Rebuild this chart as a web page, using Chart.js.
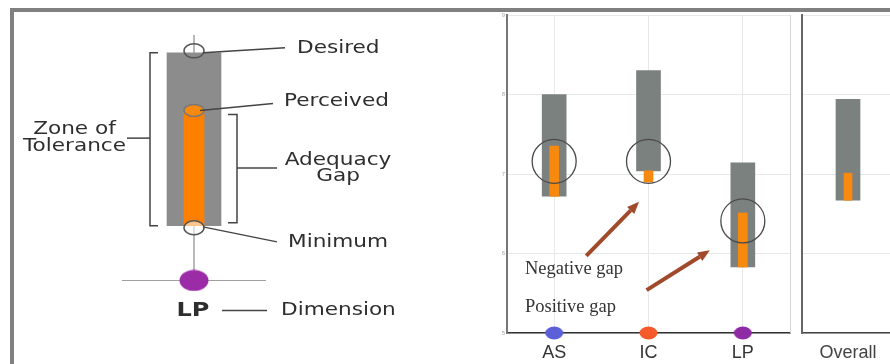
<!DOCTYPE html>
<html>
<head>
<meta charset="utf-8">
<script src="https://cdn.jsdelivr.net/npm/chart.js@4.4.1/dist/chart.umd.min.js"></script>
<style>
  html, body { margin: 0; padding: 0; background: #fff; }
  #wrap { position: relative; width: 890px; height: 364px; overflow: hidden; background: #fff; }
  #frame { position: absolute; left: 10px; top: 8px; width: 900px; height: 352px;
           border-top: 4px solid #808080; border-left: 4px solid #808080; border-bottom: 2px solid #808080; }
  .box { position: absolute; top: 0; height: 364px; }
</style>
</head>
<body>
<div id="wrap">
  <div id="frame"></div>
  <div class="box" style="left:0;width:490px"><canvas id="diag"></canvas></div>
  <div class="box" style="left:470px;width:330px"><canvas id="p1"></canvas></div>
  <div class="box" style="left:790px;width:110px"><canvas id="p2"></canvas></div>
</div>
<script>
// ---------- data: explanatory diagram ----------
const diagLabels = ['LP'];
const diagDesired = [8];
const diagPerceived = [7];
const diagMinimum = [5];
const diagMarker = [4.05];

// ---------- data: dimensions ----------
const categories = ['AS', 'IC', 'LP'];
const desired = [8.00, 8.30, 7.14];
const minimum = [6.72, 7.04, 5.83];
const perceived = [7.35, 6.90, 6.51];
const circleY = [7.16, 7.16, 6.41];
const baseY = [5, 5, 5];
const dotColors = ['#5b5fd8', '#f45a2a', '#8e2aa3'];

// ---------- data: overall ----------
const overallLabels = ['Overall'];
const overallDesired = [7.94];
const overallMinimum = [6.67];
const overallPerceived = [7.01];

const yTicks = [5, 6, 7, 8, 9];

const GREY = '#7b817e';
const ORANGE = '#f7890f';

function ellipseCanvas(w, h, color) {
  const c = document.createElement('canvas');
  c.width = w; c.height = h;
  const g = c.getContext('2d');
  g.fillStyle = color;
  g.beginPath();
  g.ellipse(w / 2, h / 2, w / 2 - 0.5, h / 2 - 0.5, 0, 0, Math.PI * 2);
  g.fill();
  return c;
}

function stretchText(ctx, text, x, y, align, font, sx, color) {
  ctx.save();
  ctx.translate(x, y);
  ctx.scale(sx, 1);
  ctx.font = font;
  ctx.fillStyle = color;
  ctx.textAlign = align;
  ctx.textBaseline = 'middle';
  ctx.fillText(text, 0, 0);
  ctx.restore();
}

// ---------- diagram ----------
const diagFont = '18px "DejaVu Sans"';
const diagInk = '#2e2e2e';
const diagPlugin = {
  id: 'diagAnnot',
  beforeDatasetsDraw(chart) {
    const ctx = chart.ctx, xs = chart.scales.x, ys = chart.scales.y;
    const cx = xs.getPixelForValue(0);
    ctx.save();
    ctx.strokeStyle = '#8a8a8a';
    ctx.lineWidth = 1.2;
    ctx.beginPath();
    ctx.moveTo(cx, ys.getPixelForValue(8.31));
    ctx.lineTo(cx, ys.getPixelForValue(diagDesired[0]));
    ctx.stroke();
    ctx.beginPath();
    ctx.moveTo(cx, ys.getPixelForValue(diagMinimum[0]));
    ctx.lineTo(cx, ys.getPixelForValue(diagMarker[0]));
    ctx.stroke();
    ctx.strokeStyle = '#a0a0a0';
    const by = ys.getPixelForValue(diagMarker[0]);
    ctx.beginPath();
    ctx.moveTo(cx - 72, by);
    ctx.lineTo(cx + 72, by);
    ctx.stroke();
    ctx.restore();
  },
  afterDatasetsDraw(chart) {
    const ctx = chart.ctx, xs = chart.scales.x, ys = chart.scales.y;
    const cx = xs.getPixelForValue(0);
    const yD = ys.getPixelForValue(diagDesired[0]);
    const yP = ys.getPixelForValue(diagPerceived[0]);
    const yM = ys.getPixelForValue(diagMinimum[0]);
    ctx.save();
    ctx.lineWidth = 1.5;
    ctx.strokeStyle = '#555';
    ctx.beginPath(); ctx.ellipse(cx, yD - 2, 10, 7, 0, 0, Math.PI * 2); ctx.stroke();
    ctx.fillStyle = ORANGE;
    ctx.strokeStyle = '#777';
    ctx.beginPath(); ctx.ellipse(cx, yP, 10, 6, 0, 0, Math.PI * 2); ctx.fill(); ctx.stroke();
    ctx.fillStyle = 'rgba(255,255,255,0.55)';
    ctx.strokeStyle = '#555';
    ctx.beginPath(); ctx.ellipse(cx, yM + 2, 10, 7, 0, 0, Math.PI * 2); ctx.fill(); ctx.stroke();

    ctx.strokeStyle = '#444';
    ctx.lineWidth = 1.5;
    const seg = (x1, v1, x2, v2) => {
      ctx.beginPath();
      ctx.moveTo(cx + x1, ys.getPixelForValue(v1));
      ctx.lineTo(cx + x2, ys.getPixelForValue(v2));
      ctx.stroke();
    };
    seg(9, diagDesired[0], 91, 8.09);
    seg(6, diagPerceived[0], 79, 7.12);
    seg(9, diagMinimum[0] - 0.02, 83, 4.72);
    ctx.beginPath();
    ctx.moveTo(cx - 36, yD); ctx.lineTo(cx - 44, yD);
    ctx.lineTo(cx - 44, yM); ctx.lineTo(cx - 36, yM);
    ctx.stroke();
    seg(-44, 6.52, -67, 6.52);
    const yb1 = ys.getPixelForValue(6.93), yb2 = ys.getPixelForValue(5.05);
    ctx.beginPath();
    ctx.moveTo(cx + 34, yb1); ctx.lineTo(cx + 43, yb1);
    ctx.lineTo(cx + 43, yb2); ctx.lineTo(cx + 34, yb2);
    ctx.stroke();
    seg(43, 6.0, 83, 6.0);
    seg(28, 3.53, 73, 3.53);
    ctx.restore();

    const t = (s, dx, v, align, font) => stretchText(ctx, s, cx + dx, ys.getPixelForValue(v), align, font || diagFont, 1.2, diagInk);
    t('Desired', 103, 8.07, 'left');
    t('Perceived', 90, 7.15, 'left');
    t('Zone of', -119.5, 6.68, 'center');
    t('Tolerance', -119.5, 6.37, 'center');
    t('Adequacy', 144, 6.14, 'center');
    t('Gap', 144, 5.85, 'center');
    t('Minimum', 94, 4.72, 'left');
    t('Dimension', 87, 3.53, 'left');
    t('LP', -1, 3.53, 'center', 'bold 20px "DejaVu Sans"');
  }
};

new Chart(document.getElementById('diag'), {
  type: 'bar',
  data: {
    labels: diagLabels,
    datasets: [
      { data: diagLabels.map((_, i) => [diagMinimum[i], diagDesired[i]]), backgroundColor: '#8c8c8c',
        barThickness: 54, grouped: false, order: 3 },
      { data: diagLabels.map((_, i) => [diagMinimum[i], diagPerceived[i]]), backgroundColor: '#ff8000',
        barThickness: 20, grouped: false, order: 2 },
      { type: 'line', data: diagMarker, showLine: false, clip: false, order: 1,
        pointStyle: ellipseCanvas(30, 22, '#9c2ba8'), pointRadius: 11, pointHoverRadius: 11 }
    ]
  },
  options: {
    responsive: true, maintainAspectRatio: false, animation: false,
    layout: { autoPadding: false, padding: { left: 20, right: 122, top: 24, bottom: 23 } },
    plugins: { legend: { display: false }, tooltip: { enabled: false } },
    scales: {
      x: { display: false },
      y: { display: false, min: 3, max: 8.5 }
    }
  },
  plugins: [diagPlugin]
});

// ---------- panel 1 ----------
const notes = [
  { text: 'Negative gap', x: -0.31, y: 5.80 },
  { text: 'Positive gap', x: -0.31, y: 5.33 }
];
const arrows = [
  { from: [0.34, 5.97], to: [0.90, 6.65] },
  { from: [0.98, 5.54], to: [1.65, 6.04] }
];

const p1Plugin = {
  id: 'p1Annot',
  beforeDatasetsDraw(chart) {
    const ctx = chart.ctx, a = chart.chartArea;
    ctx.save();
    ctx.strokeStyle = '#d4d6d8';
    ctx.lineWidth = 1;
    ctx.beginPath();
    ctx.moveTo(a.right + 0.5, a.top);
    ctx.lineTo(a.right + 0.5, a.bottom);
    ctx.stroke();
    ctx.restore();
  },
  afterDatasetsDraw(chart) {
    const ctx = chart.ctx, xs = chart.scales.x, ys = chart.scales.y;
    ctx.save();
    ctx.strokeStyle = '#a14a2b';
    ctx.fillStyle = '#a14a2b';
    ctx.lineWidth = 4;
    ctx.lineCap = 'butt';
    arrows.forEach(ar => {
      const x1 = xs.getPixelForValue(ar.from[0]), y1 = ys.getPixelForValue(ar.from[1]);
      const x2 = xs.getPixelForValue(ar.to[0]), y2 = ys.getPixelForValue(ar.to[1]);
      const ang = Math.atan2(y2 - y1, x2 - x1);
      const hl = 12, hw = 5;
      const bx = x2 - hl * Math.cos(ang), by = y2 - hl * Math.sin(ang);
      ctx.beginPath(); ctx.moveTo(x1, y1); ctx.lineTo(bx, by); ctx.stroke();
      ctx.beginPath();
      ctx.moveTo(x2, y2);
      ctx.lineTo(bx + hw * Math.sin(ang), by - hw * Math.cos(ang));
      ctx.lineTo(bx - hw * Math.sin(ang), by + hw * Math.cos(ang));
      ctx.closePath(); ctx.fill();
    });
    ctx.font = '18.5px "Liberation Serif"';
    ctx.fillStyle = '#333';
    ctx.textAlign = 'left';
    ctx.textBaseline = 'middle';
    notes.forEach(n => ctx.fillText(n.text, xs.getPixelForValue(n.x), ys.getPixelForValue(n.y)));
    ctx.restore();
  }
};

function yScale(widthPx, showTicks, borderColor, borderWidth) {
  return {
    min: 5, max: 9,
    afterFit: s => { s.width = widthPx; s.paddingTop = 0; s.paddingBottom = 0; s.paddingLeft = 0; s.paddingRight = 0; },
    afterBuildTicks: s => { s.ticks = yTicks.map(v => ({ value: v })); },
    border: { color: borderColor, width: borderWidth },
    grid: { color: '#e6e8ea', drawTicks: false },
    ticks: { display: showTicks, padding: 2, color: '#aaa', font: { size: 6, family: 'Liberation Sans' } }
  };
}

function xScale(color, showGrid) {
  return {
    afterFit: s => { s.height = 31; s.paddingLeft = 0; s.paddingRight = 0; s.paddingTop = 0; s.paddingBottom = 0; },
    border: { color: color, width: 1.5 },
    grid: { offset: false, display: showGrid, color: '#e6e8ea', drawTicks: false },
    ticks: { padding: 9, maxRotation: 0, minRotation: 0, autoSkip: false, color: color,
             font: { size: 18, family: 'Liberation Sans' } }
  };
}

new Chart(document.getElementById('p1'), {
  type: 'bar',
  data: {
    labels: categories,
    datasets: [
      { data: categories.map((_, i) => [minimum[i], desired[i]]), backgroundColor: GREY,
        barThickness: 24, grouped: false, order: 4 },
      { data: categories.map((_, i) => [minimum[i], perceived[i]]), backgroundColor: ORANGE,
        barThickness: 9, grouped: false, order: 3 },
      { type: 'line', data: circleY, showLine: false, order: 2, clip: false,
        pointRadius: 22, pointHoverRadius: 22, pointBackgroundColor: 'rgba(0,0,0,0)',
        pointBorderColor: '#4a4a4a', pointBorderWidth: 1.3 },
      { type: 'line', data: baseY, showLine: false, order: 1, clip: false,
        pointStyle: dotColors.map(c => ellipseCanvas(19, 14, c)), pointRadius: 9, pointHoverRadius: 9 }
    ]
  },
  options: {
    responsive: true, maintainAspectRatio: false, animation: false,
    layout: { autoPadding: false, padding: { left: 0, right: 10, top: 15, bottom: 0 } },
    plugins: { legend: { display: false }, tooltip: { enabled: false } },
    scales: {
      x: xScale('#333', true),
      y: yScale(37, true, '#777', 2)
    }
  },
  plugins: [p1Plugin]
});

// ---------- panel 2 ----------
new Chart(document.getElementById('p2'), {
  type: 'bar',
  data: {
    labels: overallLabels,
    datasets: [
      { data: overallLabels.map((_, i) => [overallMinimum[i], overallDesired[i]]), backgroundColor: GREY,
        barThickness: 24, grouped: false, order: 2 },
      { data: overallLabels.map((_, i) => [overallMinimum[i], overallPerceived[i]]), backgroundColor: ORANGE,
        barThickness: 8, grouped: false, order: 1 }
    ]
  },
  options: {
    responsive: true, maintainAspectRatio: false, animation: false,
    layout: { autoPadding: false, padding: { left: 0, right: 6, top: 15, bottom: 0 } },
    plugins: { legend: { display: false }, tooltip: { enabled: false } },
    scales: {
      x: xScale('#444', false),
      y: yScale(12, false, '#666', 2)
    }
  }
});
</script>
</body>
</html>
